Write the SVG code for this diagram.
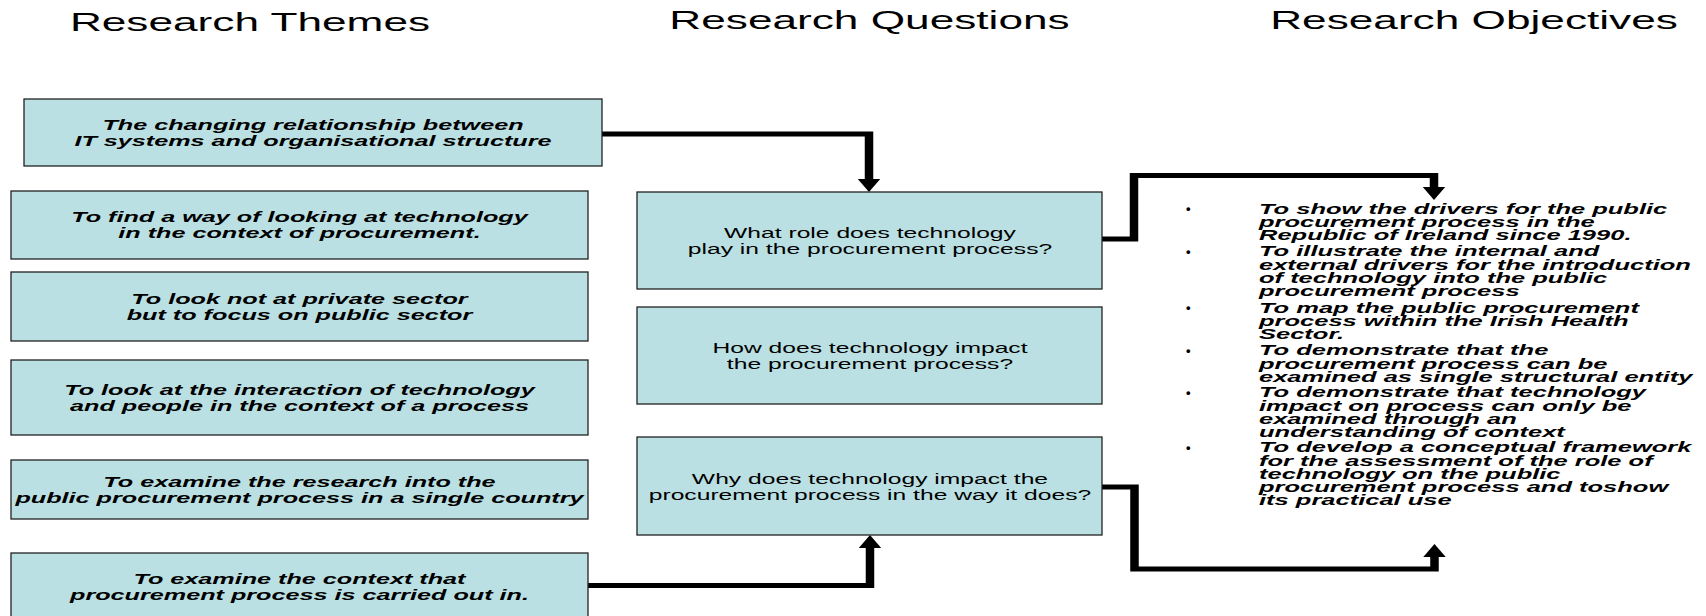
<svg xmlns="http://www.w3.org/2000/svg" width="1706" height="616" viewBox="0 0 1706 616">
<defs>
<style>
.box{fill:#BBE0E3;stroke:#222;stroke-width:1.3}
.th{font-family:"Liberation Sans",Arial,sans-serif;font-style:italic;font-weight:bold;font-size:15px;text-anchor:middle;fill:#000}
.q{font-family:"Liberation Sans",Arial,sans-serif;font-size:14.5px;text-anchor:middle;fill:#000}
.ob{font-family:"Liberation Sans",Arial,sans-serif;font-style:italic;font-weight:bold;font-size:15px;fill:#000}
.bul{font-family:"Liberation Sans",Arial,sans-serif;font-size:13px;font-weight:bold;fill:#000}
.title{font-family:"Liberation Sans",Arial,sans-serif;font-size:26px;text-anchor:middle;fill:#000}
.conn{fill:none;stroke:#000;stroke-width:5;stroke-linejoin:miter}
</style>
<marker id="ah" markerUnits="userSpaceOnUse" markerWidth="14" markerHeight="14" refX="0" refY="0" orient="auto" overflow="visible">
<path d="M0,-6.6 L13,0 L0,6.6 Z" fill="#000"/>
</marker>
</defs>
<rect width="1706" height="616" fill="#fff"/>

<g id="titles" transform="scale(1.7 1)">
<text class="title" x="147.06" y="31">Research Themes</text>
<text class="title" x="511.47" y="29">Research Questions</text>
<text class="title" x="867.06" y="29">Research Objectives</text>
</g>

<g id="connectors" transform="scale(1.7 1)">
<path class="conn" d="M354.12,134 H511.18 V179" marker-end="url(#ah)"/>
<path class="conn" d="M648.24,239 H667.06 V175.5 H843.53 V187" marker-end="url(#ah)"/>
<path class="conn" d="M345.88,585.5 H511.76 V548" marker-end="url(#ah)"/>
<path class="conn" d="M648.24,487 H667.35 V569 H843.82 V557" marker-end="url(#ah)"/>
</g>

<g id="theme1">
<rect class="box" x="24" y="99" width="578" height="67"/>
<g transform="scale(1.68 1)">
<text class="th" x="186.31" y="130">The changing relationship between</text>
<text class="th" x="186.31" y="146">IT systems and organisational structure</text>
</g>
</g>
<g id="theme2">
<rect class="box" x="11" y="191" width="577" height="68"/>
<g transform="scale(1.68 1)">
<text class="th" x="178.27" y="222.5">To find a way of looking at technology</text>
<text class="th" x="178.27" y="238.5">in the context of procurement.</text>
</g>
</g>
<g id="theme3">
<rect class="box" x="11" y="272" width="577" height="69"/>
<g transform="scale(1.68 1)">
<text class="th" x="178.27" y="304">To look not at private sector</text>
<text class="th" x="178.27" y="320">but to focus on public sector</text>
</g>
</g>
<g id="theme4">
<rect class="box" x="11" y="360" width="577" height="75"/>
<g transform="scale(1.68 1)">
<text class="th" x="178.27" y="395">To look at the interaction of technology</text>
<text class="th" x="178.27" y="411">and people in the context of a process</text>
</g>
</g>
<g id="theme5">
<rect class="box" x="11" y="460" width="577" height="59"/>
<g transform="scale(1.68 1)">
<text class="th" x="178.27" y="487">To examine the research into the</text>
<text class="th" x="178.27" y="503">public procurement process in a single country</text>
</g>
</g>
<g id="theme6">
<rect class="box" x="11" y="553" width="577" height="72"/>
<g transform="scale(1.68 1)">
<text class="th" x="178.27" y="584.5">To examine the context that</text>
<text class="th" x="178.27" y="600.5">procurement process is carried out in.</text>
</g>
</g>

<g id="question1">
<rect class="box" x="637" y="192" width="465" height="97"/>
<g transform="scale(1.7 1)">
<text class="q" x="511.76" y="238.3">What role does technology</text>
<text class="q" x="511.76" y="254.3">play in the procurement process?</text>
</g>
</g>
<g id="question2">
<rect class="box" x="637" y="307" width="465" height="97"/>
<g transform="scale(1.7 1)">
<text class="q" x="511.76" y="353.5">How does technology impact</text>
<text class="q" x="511.76" y="369.5">the procurement process?</text>
</g>
</g>
<g id="question3">
<rect class="box" x="637" y="437" width="465" height="98"/>
<g transform="scale(1.7 1)">
<text class="q" x="511.76" y="484.5">Why does technology impact the</text>
<text class="q" x="511.76" y="500.5">procurement process in the way it does?</text>
</g>
</g>

<g id="objectives">
<text class="bul" x="1186" y="213">•</text>
<text class="bul" x="1186" y="255.5">•</text>
<text class="bul" x="1186" y="312">•</text>
<text class="bul" x="1186" y="354.5">•</text>
<text class="bul" x="1186" y="396.5">•</text>
<text class="bul" x="1186" y="451.5">•</text>
<g transform="scale(1.7 1)">
<text class="ob" x="740.59" y="214">To show the drivers for the public</text>
<text class="ob" x="740.59" y="227.1">procurement process in the</text>
<text class="ob" x="740.59" y="240.2">Republic of Ireland since 1990.</text>
<text class="ob" x="740.59" y="256.5">To illustrate the internal and</text>
<text class="ob" x="740.59" y="269.6">external drivers for the introduction</text>
<text class="ob" x="740.59" y="282.7">of technology into the public</text>
<text class="ob" x="740.59" y="295.8">procurement process</text>
<text class="ob" x="740.59" y="313">To map the public procurement</text>
<text class="ob" x="740.59" y="326.1">process within the Irish Health</text>
<text class="ob" x="740.59" y="339.2">Sector.</text>
<text class="ob" x="740.59" y="355.5">To demonstrate that the</text>
<text class="ob" x="740.59" y="368.6">procurement process can be</text>
<text class="ob" x="740.59" y="381.7">examined as single structural entity</text>
<text class="ob" x="740.59" y="397.5">To demonstrate that technology</text>
<text class="ob" x="740.59" y="410.6">impact on process can only be</text>
<text class="ob" x="740.59" y="423.7">examined through an</text>
<text class="ob" x="740.59" y="436.8">understanding of context</text>
<text class="ob" x="740.59" y="452.5">To develop a conceptual framework</text>
<text class="ob" x="740.59" y="465.6">for the assessment of the role of</text>
<text class="ob" x="740.59" y="478.7">technology on the public</text>
<text class="ob" x="740.59" y="491.8">procurement process and toshow</text>
<text class="ob" x="740.59" y="504.9">its practical use</text>
</g>
</g>
</svg>
